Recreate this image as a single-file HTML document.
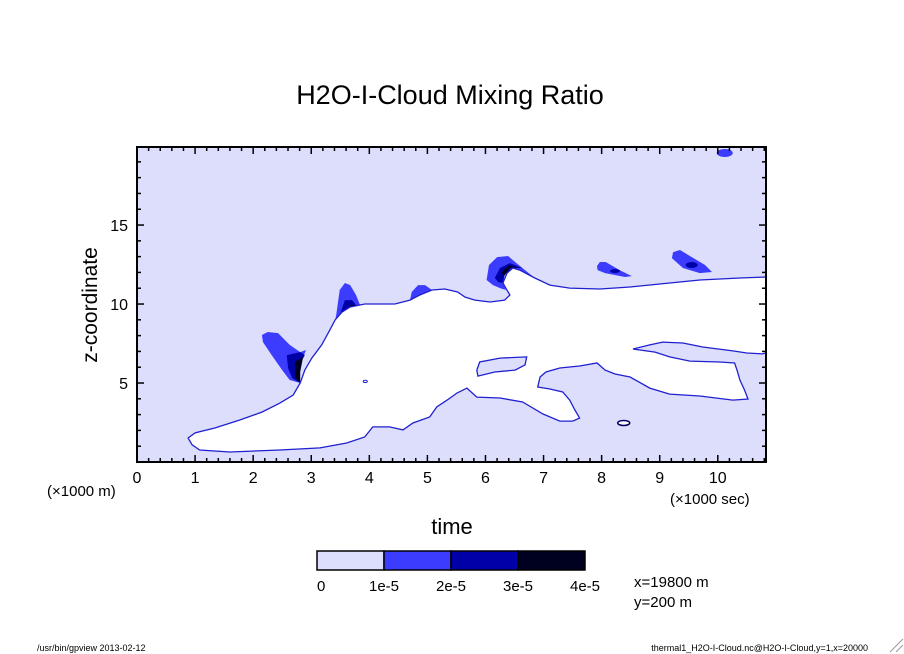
<!DOCTYPE html>
<html><head><meta charset="utf-8"><style>
body{margin:0;background:#fff;}
svg{display:block;font-family:"Liberation Sans",sans-serif;}
</style></head><body>
<svg id="chart" width="904" height="654" viewBox="0 0 904 654" xmlns="http://www.w3.org/2000/svg">
<text x="450" y="104" font-size="27" text-anchor="middle">H2O-I-Cloud Mixing Ratio</text>
<g id="plot"></g>
<g id="axes"></g>
<text x="97" y="305" font-size="21" text-anchor="middle" transform="rotate(-90 97 305)">z-coordinate</text>
<text x="452" y="534" font-size="22" text-anchor="middle">time</text>
<text x="47" y="496" font-size="15">(×1000 m)</text>
<text x="670" y="504" font-size="15">(×1000 sec)</text>
<g id="legend"></g>
<text x="634" y="587" font-size="15">x=19800 m</text>
<text x="634" y="607" font-size="15">y=200 m</text>
<text x="37" y="651" font-size="9">/usr/bin/gpview  2013-02-12</text>
<text x="868" y="651" font-size="9" text-anchor="end">thermal1_H2O-I-Cloud.nc@H2O-I-Cloud,y=1,x=20000</text>
<line x1="890" y1="652" x2="903" y2="639" stroke="#999"/>
<line x1="896" y1="652" x2="903" y2="645" stroke="#999"/>
</svg>
<script>
const xTicks=[0,1,2,3,4,5,6,7,8,9,10];
const yTicks=[5,10,15];
const xDomain=[0,10.83];
const yDomain=[0,19.94];
const levelLabels=["0","1e-5","2e-5","3e-5","4e-5"];
const levelColors=["#dcdefc","#3c3cff","#0000a8","#000020"];
const cloudFreeX=[0.88,1.00,1.34,1.77,2.15,2.46,2.69,2.81,2.89,3.01,3.18,3.32,3.41,3.53,3.67,3.92,4.44,4.70,4.87,5.08,5.30,5.52,5.65,5.82,6.08,6.33,6.42,6.35,6.30,6.37,6.47,6.59,6.85,7.11,7.45,7.97,8.49,9.0,9.69,10.38,10.83,10.83,10.77,10.5,10.26,9.74,9.4,9.05,8.83,8.54,8.66,8.92,9.17,9.52,10.03,10.29,10.33,10.38,10.46,10.52,10.26,9.69,9.17,8.83,8.49,8.23,8.06,7.92,7.62,7.28,7.04,6.94,6.9,7.11,7.33,7.45,7.54,7.62,7.5,7.28,6.99,6.64,6.25,5.85,5.68,5.51,5.34,5.16,5.04,4.75,4.58,4.35,4.06,3.92,3.61,3.15,2.46,1.6,1.08,0.95];
const cloudFreeZ=[1.52,1.84,2.15,2.66,3.16,3.73,4.24,5.0,5.82,6.58,7.41,8.35,8.99,9.49,9.81,10.0,10.0,10.25,10.57,10.89,10.95,10.76,10.44,10.25,10.13,10.25,10.57,11.01,11.33,11.96,12.28,12.15,11.65,11.2,11.01,10.95,11.08,11.27,11.52,11.65,11.71,6.9,6.84,6.9,7.03,7.28,7.53,7.59,7.41,7.15,7.09,6.96,6.65,6.39,6.33,6.27,5.82,5.19,4.56,3.99,3.92,4.18,4.3,4.68,5.38,5.57,5.82,6.27,6.08,5.95,5.7,5.38,4.75,4.62,4.43,3.92,3.29,2.78,2.59,2.59,3.04,3.8,4.05,4.11,4.68,4.37,3.92,3.48,2.85,2.47,2.03,2.22,2.22,1.58,1.2,0.89,0.76,0.63,0.76,1.08];
const islandX=[5.85,5.9,6.25,6.71,6.68,6.51,6.16,5.87];
const islandZ=[5.82,6.33,6.58,6.65,6.14,5.82,5.7,5.44];
const capAx1=[2.15,2.25,2.43,2.63,2.81,2.91,2.81,2.74,2.81,2.63,2.5,2.32,2.17];
const capAz1=[8.04,8.23,8.16,7.41,6.96,7.09,6.14,5.51,5.0,5.19,5.82,6.77,7.59];
const capAx2=[2.58,2.81,2.89,2.77,2.81,2.67,2.6];
const capAz2=[6.77,6.96,6.77,5.95,5.0,5.32,5.95];
const capAx3=[2.72,2.86,2.81,2.81,2.72];
const capAz3=[6.33,6.65,5.7,5.0,5.32];
const capBx1=[3.37,3.43,3.49,3.58,3.67,3.77,3.84,3.67,3.49];
const capBz1=[8.35,9.3,10.89,11.33,11.2,10.57,9.94,9.75,9.11];
const capBx2=[3.49,3.58,3.7,3.79,3.58];
const capBz2=[9.3,10.25,10.25,9.87,9.49];
const capBx3=[3.55,3.67,3.79,3.63];
const capBz3=[9.43,9.94,9.94,9.56];
const capCx1=[4.7,4.73,4.84,4.96,5.08,4.87];
const capCz1=[10.25,10.76,11.2,11.2,10.89,10.57];
const capDx1=[6.02,6.06,6.2,6.39,6.51,6.68,6.85,6.59,6.45,6.33,6.3,6.35,6.25,6.13];
const capDz1=[11.52,12.47,12.97,13.04,12.66,12.15,11.65,12.15,12.28,11.84,11.33,10.89,11.01,11.2];
const capDx2=[6.16,6.25,6.42,6.63,6.45,6.33,6.3,6.22];
const capDz2=[11.65,12.28,12.59,12.28,12.28,11.84,11.33,11.39];
const capDx3=[6.28,6.39,6.56,6.42,6.32];
const capDz3=[12.03,12.41,12.34,12.28,11.77];
const capEx1=[7.92,7.97,8.07,8.31,8.52,8.4,8.06,7.93];
const capEz1=[12.41,12.66,12.66,12.15,11.77,11.71,11.96,12.15];
const capFx1=[9.21,9.23,9.35,9.52,9.78,9.9,9.69,9.4];
const capFz1=[12.91,13.29,13.42,13.04,12.47,12.03,11.96,12.28];
const blobX=[8.23,9.55,10.12];
const blobZ=[12.09,12.47,19.56];

const L=137,R=766,T=147,B=462;
const sx=v=>L+(v-xDomain[0])/(xDomain[1]-xDomain[0])*(R-L);
const sy=v=>B-(v-yDomain[0])/(yDomain[1]-yDomain[0])*(B-T);
const NS="http://www.w3.org/2000/svg";
function mk(tag,attrs,parent){const e=document.createElementNS(NS,tag);for(const k in attrs)e.setAttribute(k,attrs[k]);parent.appendChild(e);return e;}
function pts(xs,zs){return xs.map((x,i)=>sx(x).toFixed(1)+","+sy(zs[i]).toFixed(1)).join(" ");}
const plot=document.getElementById("plot");
let bg=mk("rect",{x:L,y:T,width:R-L,height:B-T,fill:levelColors[0]},plot);


const polys=[[capAx1,capAz1,1],[capAx2,capAz2,2],[capAx3,capAz3,3],[capBx1,capBz1,1],[capBx2,capBz2,2],[capBx3,capBz3,3],[capCx1,capCz1,1],[capDx1,capDz1,1],[capDx2,capDz2,2],[capDx3,capDz3,3],[capEx1,capEz1,1],[capFx1,capFz1,1]];
polys.forEach((p,i)=>{const e=mk("polygon",{points:pts(p[0],p[1]),fill:levelColors[p[2]]},plot);

});
let w=mk("polygon",{points:pts(cloudFreeX,cloudFreeZ),fill:"#fff",stroke:"#2020d0","stroke-width":1.3},plot);


let isl=mk("polygon",{points:pts(islandX,islandZ),fill:levelColors[0],stroke:"#2020d0","stroke-width":1.3},plot);


let eE=mk("ellipse",{cx:sx(blobX[0]),cy:sy(blobZ[0]),rx:5,ry:2,fill:levelColors[2]},plot);


let eF=mk("ellipse",{cx:sx(blobX[1]),cy:sy(blobZ[1]),rx:6,ry:3,fill:levelColors[2]},plot);


let eT=mk("ellipse",{cx:sx(blobX[2]),cy:sy(blobZ[2]),rx:8,ry:4,fill:levelColors[1]},plot);


let ring=mk("ellipse",{cx:sx(8.38),cy:sy(2.47),rx:6,ry:2.5,fill:"#fff",stroke:"#000060","stroke-width":1.5},plot);


let dot=mk("ellipse",{cx:sx(3.93),cy:sy(5.1),rx:2,ry:1.2,fill:"none",stroke:"#2020d0"},plot);



const axes=document.getElementById("axes");
let frame=mk("rect",{x:L,y:T,width:R-L,height:B-T,fill:"none",stroke:"#000","stroke-width":2},axes);


for(let v=0;v<=xDomain[1]+1e-6;v+=0.2){
 const major=Math.abs(v-Math.round(v))<1e-6; const len=major?7:4; const x=sx(v);
 let t1=mk("line",{x1:x,x2:x,y1:B,y2:B-len,stroke:"#000","stroke-width":1.5},axes);
 
 
 let t2=mk("line",{x1:x,x2:x,y1:T,y2:T+len,stroke:"#000","stroke-width":1.5},axes);
 
 
}
xTicks.forEach(v=>{let t=mk("text",{x:sx(v),y:483,"font-size":16,"text-anchor":"middle"},axes);t.textContent=v;

});
for(let v=1;v<yDomain[1];v+=1){
 const major=v%5===0; const len=major?7:4; const y=sy(v);
 let t1=mk("line",{x1:L,x2:L+len,y1:y,y2:y,stroke:"#000","stroke-width":1.5},axes);
 
 
 let t2=mk("line",{x1:R,x2:R-len,y1:y,y2:y,stroke:"#000","stroke-width":1.5},axes);
 
 
}
yTicks.forEach(v=>{let t=mk("text",{x:128,y:sy(v)+6,"font-size":16,"text-anchor":"end"},axes);t.textContent=v;

});

const leg=document.getElementById("legend");
const lx=317,lw=67,ly=551,lh=19;
levelColors.forEach((c,i)=>{let r=mk("rect",{x:lx+i*lw,y:ly,width:lw,height:lh,fill:c,stroke:"#000","stroke-width":1.5},leg);

});
levelLabels.forEach((s,i)=>{let t=mk("text",{x:lx+i*lw,y:591,"font-size":15,"text-anchor":i===0?"start":"middle"},leg);t.textContent=s;

});
</script>
</body></html>
